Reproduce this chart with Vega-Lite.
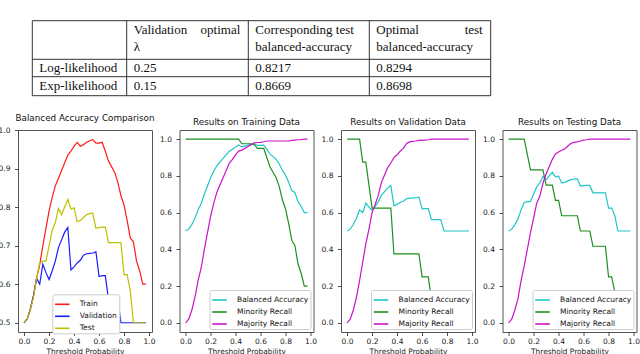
{
  "$schema": "https://vega.github.io/schema/vega-lite/v6.json",
  "autosize": {"type": "none"},
  "padding": {"left": 18, "top": 0, "right": 622, "bottom": 354},
  "background": "white",
  "bounds": "flush",
  "spacing": 30,
  "datasets": {
    "cells": [
      {"k": 1, "ln": 0, "text": "Validation", "part": "l"},
      {"k": 2, "ln": 0, "text": "optimal", "part": "r"},
      {"k": 2, "ln": 0, "text": "Corresponding test", "part": "l"},
      {"k": 3, "ln": 0, "text": "Optimal", "part": "l"},
      {"k": 4, "ln": 0, "text": "test", "part": "r"},
      {"k": 1, "ln": 1, "text": "λ", "part": "l"},
      {"k": 2, "ln": 1, "text": "balanced-accuracy", "part": "l"},
      {"k": 3, "ln": 1, "text": "balanced-accuracy", "part": "l"},
      {"k": 0, "ln": 2, "text": "Log-likelihood", "part": "l"},
      {"k": 1, "ln": 2, "text": "0.25", "part": "l"},
      {"k": 2, "ln": 2, "text": "0.8217", "part": "l"},
      {"k": 3, "ln": 2, "text": "0.8294", "part": "l"},
      {"k": 0, "ln": 3, "text": "Exp-likelihood", "part": "l"},
      {"k": 1, "ln": 3, "text": "0.15", "part": "l"},
      {"k": 2, "ln": 3, "text": "0.8669", "part": "l"},
      {"k": 3, "ln": 3, "text": "0.8698", "part": "l"}
    ],
    "cmp": [
      {"t":0,"Train":0.5,"Validation":0.5,"Test":0.5},
      {"t":0.025,"Train":0.51,"Validation":0.51,"Test":0.51},
      {"t":0.05,"Train":0.535,"Validation":0.535,"Test":0.535},
      {"t":0.075,"Train":0.57,"Validation":0.57,"Test":0.565},
      {"t":0.1,"Train":0.615,"Validation":0.615,"Test":0.615},
      {"t":0.125,"Train":0.65,"Validation":0.6,"Test":0.655},
      {"t":0.15,"Train":0.7,"Validation":0.652,"Test":0.66},
      {"t":0.175,"Train":0.745,"Validation":0.63,"Test":0.66},
      {"t":0.2,"Train":0.79,"Validation":0.612,"Test":0.7},
      {"t":0.225,"Train":0.825,"Validation":0.635,"Test":0.74},
      {"t":0.25,"Train":0.855,"Validation":0.66,"Test":0.76},
      {"t":0.275,"Train":0.875,"Validation":0.695,"Test":0.797},
      {"t":0.3,"Train":0.895,"Validation":0.715,"Test":0.78},
      {"t":0.325,"Train":0.915,"Validation":0.735,"Test":0.8},
      {"t":0.35,"Train":0.935,"Validation":0.747,"Test":0.82},
      {"t":0.375,"Train":0.945,"Validation":0.637,"Test":0.795},
      {"t":0.4,"Train":0.958,"Validation":0.645,"Test":0.798},
      {"t":0.425,"Train":0.968,"Validation":0.655,"Test":0.762},
      {"t":0.45,"Train":0.958,"Validation":0.662,"Test":0.765},
      {"t":0.475,"Train":0.962,"Validation":0.675,"Test":0.773},
      {"t":0.5,"Train":0.968,"Validation":0.679,"Test":0.78},
      {"t":0.525,"Train":0.972,"Validation":0.68,"Test":0.783},
      {"t":0.55,"Train":0.975,"Validation":0.681,"Test":0.784},
      {"t":0.575,"Train":0.966,"Validation":0.684,"Test":0.745},
      {"t":0.6,"Train":0.966,"Validation":0.62,"Test":0.747},
      {"t":0.625,"Train":0.968,"Validation":0.622,"Test":0.748},
      {"t":0.65,"Train":0.945,"Validation":0.622,"Test":0.748},
      {"t":0.675,"Train":0.92,"Validation":0.562,"Test":0.708},
      {"t":0.7,"Train":0.905,"Validation":0.562,"Test":0.708},
      {"t":0.725,"Train":0.89,"Validation":0.562,"Test":0.708},
      {"t":0.75,"Train":0.865,"Validation":0.562,"Test":0.708},
      {"t":0.775,"Train":0.83,"Validation":0.5,"Test":0.708},
      {"t":0.8,"Train":0.805,"Validation":0.5,"Test":0.625},
      {"t":0.825,"Train":0.765,"Validation":0.5,"Test":0.625},
      {"t":0.85,"Train":0.72,"Validation":0.5,"Test":0.583},
      {"t":0.875,"Train":0.71,"Validation":0.5,"Test":0.5},
      {"t":0.9,"Train":0.66,"Validation":0.5,"Test":0.5},
      {"t":0.925,"Train":0.635,"Validation":0.5,"Test":0.5},
      {"t":0.95,"Train":0.6,"Validation":0.5,"Test":0.5},
      {"t":0.975,"Train":0.6,"Validation":0.5,"Test":0.5}
    ],
    "tr": [
      {"t":0,"Balanced Accuracy":0.5,"Minority Recall":1,"Majority Recall":0},
      {"t":0.025,"Balanced Accuracy":0.51,"Minority Recall":1,"Majority Recall":0.02},
      {"t":0.05,"Balanced Accuracy":0.535,"Minority Recall":1,"Majority Recall":0.07},
      {"t":0.075,"Balanced Accuracy":0.57,"Minority Recall":1,"Majority Recall":0.14},
      {"t":0.1,"Balanced Accuracy":0.615,"Minority Recall":1,"Majority Recall":0.23},
      {"t":0.125,"Balanced Accuracy":0.65,"Minority Recall":1,"Majority Recall":0.3},
      {"t":0.15,"Balanced Accuracy":0.7,"Minority Recall":1,"Majority Recall":0.4},
      {"t":0.175,"Balanced Accuracy":0.745,"Minority Recall":1,"Majority Recall":0.49},
      {"t":0.2,"Balanced Accuracy":0.79,"Minority Recall":1,"Majority Recall":0.58},
      {"t":0.225,"Balanced Accuracy":0.825,"Minority Recall":1,"Majority Recall":0.65},
      {"t":0.25,"Balanced Accuracy":0.855,"Minority Recall":1,"Majority Recall":0.71},
      {"t":0.275,"Balanced Accuracy":0.875,"Minority Recall":1,"Majority Recall":0.75},
      {"t":0.3,"Balanced Accuracy":0.895,"Minority Recall":1,"Majority Recall":0.79},
      {"t":0.325,"Balanced Accuracy":0.915,"Minority Recall":1,"Majority Recall":0.83},
      {"t":0.35,"Balanced Accuracy":0.935,"Minority Recall":1,"Majority Recall":0.87},
      {"t":0.375,"Balanced Accuracy":0.945,"Minority Recall":1,"Majority Recall":0.89},
      {"t":0.4,"Balanced Accuracy":0.958,"Minority Recall":1,"Majority Recall":0.915},
      {"t":0.425,"Balanced Accuracy":0.968,"Minority Recall":1,"Majority Recall":0.935},
      {"t":0.45,"Balanced Accuracy":0.958,"Minority Recall":0.975,"Majority Recall":0.94},
      {"t":0.475,"Balanced Accuracy":0.962,"Minority Recall":0.975,"Majority Recall":0.95},
      {"t":0.5,"Balanced Accuracy":0.968,"Minority Recall":0.975,"Majority Recall":0.96},
      {"t":0.525,"Balanced Accuracy":0.972,"Minority Recall":0.975,"Majority Recall":0.97},
      {"t":0.55,"Balanced Accuracy":0.975,"Minority Recall":0.97,"Majority Recall":0.98},
      {"t":0.575,"Balanced Accuracy":0.966,"Minority Recall":0.95,"Majority Recall":0.982},
      {"t":0.6,"Balanced Accuracy":0.966,"Minority Recall":0.95,"Majority Recall":0.983},
      {"t":0.625,"Balanced Accuracy":0.968,"Minority Recall":0.95,"Majority Recall":0.986},
      {"t":0.65,"Balanced Accuracy":0.945,"Minority Recall":0.9,"Majority Recall":0.99},
      {"t":0.675,"Balanced Accuracy":0.92,"Minority Recall":0.85,"Majority Recall":0.99},
      {"t":0.7,"Balanced Accuracy":0.905,"Minority Recall":0.82,"Majority Recall":0.99},
      {"t":0.725,"Balanced Accuracy":0.89,"Minority Recall":0.79,"Majority Recall":0.99},
      {"t":0.75,"Balanced Accuracy":0.865,"Minority Recall":0.74,"Majority Recall":0.99},
      {"t":0.775,"Balanced Accuracy":0.83,"Minority Recall":0.67,"Majority Recall":0.99},
      {"t":0.8,"Balanced Accuracy":0.805,"Minority Recall":0.62,"Majority Recall":0.99},
      {"t":0.825,"Balanced Accuracy":0.765,"Minority Recall":0.54,"Majority Recall":0.99},
      {"t":0.85,"Balanced Accuracy":0.72,"Minority Recall":0.45,"Majority Recall":0.993},
      {"t":0.875,"Balanced Accuracy":0.71,"Minority Recall":0.42,"Majority Recall":0.995},
      {"t":0.9,"Balanced Accuracy":0.66,"Minority Recall":0.32,"Majority Recall":0.997},
      {"t":0.925,"Balanced Accuracy":0.635,"Minority Recall":0.27,"Majority Recall":0.998},
      {"t":0.95,"Balanced Accuracy":0.6,"Minority Recall":0.2,"Majority Recall":1},
      {"t":0.975,"Balanced Accuracy":0.6,"Minority Recall":0.2,"Majority Recall":1}
    ],
    "va": [
      {"t":0,"Balanced Accuracy":0.5,"Minority Recall":1,"Majority Recall":0},
      {"t":0.025,"Balanced Accuracy":0.51,"Minority Recall":1,"Majority Recall":0.02},
      {"t":0.05,"Balanced Accuracy":0.535,"Minority Recall":1,"Majority Recall":0.07},
      {"t":0.075,"Balanced Accuracy":0.57,"Minority Recall":1,"Majority Recall":0.14},
      {"t":0.1,"Balanced Accuracy":0.615,"Minority Recall":1,"Majority Recall":0.23},
      {"t":0.125,"Balanced Accuracy":0.6,"Minority Recall":0.875,"Majority Recall":0.33},
      {"t":0.15,"Balanced Accuracy":0.652,"Minority Recall":0.875,"Majority Recall":0.43},
      {"t":0.175,"Balanced Accuracy":0.63,"Minority Recall":0.75,"Majority Recall":0.51},
      {"t":0.2,"Balanced Accuracy":0.612,"Minority Recall":0.625,"Majority Recall":0.6},
      {"t":0.225,"Balanced Accuracy":0.635,"Minority Recall":0.625,"Majority Recall":0.645},
      {"t":0.25,"Balanced Accuracy":0.66,"Minority Recall":0.625,"Majority Recall":0.695},
      {"t":0.275,"Balanced Accuracy":0.695,"Minority Recall":0.625,"Majority Recall":0.765},
      {"t":0.3,"Balanced Accuracy":0.715,"Minority Recall":0.625,"Majority Recall":0.805},
      {"t":0.325,"Balanced Accuracy":0.735,"Minority Recall":0.625,"Majority Recall":0.845},
      {"t":0.35,"Balanced Accuracy":0.747,"Minority Recall":0.625,"Majority Recall":0.87},
      {"t":0.375,"Balanced Accuracy":0.637,"Minority Recall":0.375,"Majority Recall":0.9},
      {"t":0.4,"Balanced Accuracy":0.645,"Minority Recall":0.375,"Majority Recall":0.915},
      {"t":0.425,"Balanced Accuracy":0.655,"Minority Recall":0.375,"Majority Recall":0.935},
      {"t":0.45,"Balanced Accuracy":0.662,"Minority Recall":0.375,"Majority Recall":0.95},
      {"t":0.475,"Balanced Accuracy":0.675,"Minority Recall":0.375,"Majority Recall":0.975},
      {"t":0.5,"Balanced Accuracy":0.679,"Minority Recall":0.375,"Majority Recall":0.985},
      {"t":0.525,"Balanced Accuracy":0.68,"Minority Recall":0.375,"Majority Recall":0.988},
      {"t":0.55,"Balanced Accuracy":0.681,"Minority Recall":0.375,"Majority Recall":0.99},
      {"t":0.575,"Balanced Accuracy":0.684,"Minority Recall":0.375,"Majority Recall":0.993},
      {"t":0.6,"Balanced Accuracy":0.62,"Minority Recall":0.25,"Majority Recall":0.995},
      {"t":0.625,"Balanced Accuracy":0.622,"Minority Recall":0.25,"Majority Recall":0.995},
      {"t":0.65,"Balanced Accuracy":0.622,"Minority Recall":0.25,"Majority Recall":0.997},
      {"t":0.675,"Balanced Accuracy":0.562,"Minority Recall":0.125,"Majority Recall":1},
      {"t":0.7,"Balanced Accuracy":0.562,"Minority Recall":0.125,"Majority Recall":1},
      {"t":0.725,"Balanced Accuracy":0.562,"Minority Recall":0.125,"Majority Recall":1},
      {"t":0.75,"Balanced Accuracy":0.562,"Minority Recall":0.125,"Majority Recall":1},
      {"t":0.775,"Balanced Accuracy":0.5,"Minority Recall":0,"Majority Recall":1},
      {"t":0.8,"Balanced Accuracy":0.5,"Minority Recall":0,"Majority Recall":1},
      {"t":0.825,"Balanced Accuracy":0.5,"Minority Recall":0,"Majority Recall":1},
      {"t":0.85,"Balanced Accuracy":0.5,"Minority Recall":0,"Majority Recall":1},
      {"t":0.875,"Balanced Accuracy":0.5,"Minority Recall":0,"Majority Recall":1},
      {"t":0.9,"Balanced Accuracy":0.5,"Minority Recall":0,"Majority Recall":1},
      {"t":0.925,"Balanced Accuracy":0.5,"Minority Recall":0,"Majority Recall":1},
      {"t":0.95,"Balanced Accuracy":0.5,"Minority Recall":0,"Majority Recall":1},
      {"t":0.975,"Balanced Accuracy":0.5,"Minority Recall":0,"Majority Recall":1}
    ],
    "te": [
      {"t":0,"Balanced Accuracy":0.5,"Minority Recall":1,"Majority Recall":0},
      {"t":0.025,"Balanced Accuracy":0.51,"Minority Recall":1,"Majority Recall":0.02},
      {"t":0.05,"Balanced Accuracy":0.535,"Minority Recall":1,"Majority Recall":0.07},
      {"t":0.075,"Balanced Accuracy":0.565,"Minority Recall":1,"Majority Recall":0.13},
      {"t":0.1,"Balanced Accuracy":0.615,"Minority Recall":1,"Majority Recall":0.23},
      {"t":0.125,"Balanced Accuracy":0.655,"Minority Recall":1,"Majority Recall":0.31},
      {"t":0.15,"Balanced Accuracy":0.66,"Minority Recall":0.917,"Majority Recall":0.4},
      {"t":0.175,"Balanced Accuracy":0.66,"Minority Recall":0.833,"Majority Recall":0.49},
      {"t":0.2,"Balanced Accuracy":0.7,"Minority Recall":0.833,"Majority Recall":0.57},
      {"t":0.225,"Balanced Accuracy":0.74,"Minority Recall":0.833,"Majority Recall":0.65},
      {"t":0.25,"Balanced Accuracy":0.76,"Minority Recall":0.833,"Majority Recall":0.69},
      {"t":0.275,"Balanced Accuracy":0.797,"Minority Recall":0.833,"Majority Recall":0.76},
      {"t":0.3,"Balanced Accuracy":0.78,"Minority Recall":0.75,"Majority Recall":0.81},
      {"t":0.325,"Balanced Accuracy":0.8,"Minority Recall":0.75,"Majority Recall":0.85},
      {"t":0.35,"Balanced Accuracy":0.82,"Minority Recall":0.75,"Majority Recall":0.89},
      {"t":0.375,"Balanced Accuracy":0.795,"Minority Recall":0.667,"Majority Recall":0.92},
      {"t":0.4,"Balanced Accuracy":0.798,"Minority Recall":0.667,"Majority Recall":0.93},
      {"t":0.425,"Balanced Accuracy":0.762,"Minority Recall":0.583,"Majority Recall":0.94},
      {"t":0.45,"Balanced Accuracy":0.765,"Minority Recall":0.583,"Majority Recall":0.947},
      {"t":0.475,"Balanced Accuracy":0.773,"Minority Recall":0.583,"Majority Recall":0.963},
      {"t":0.5,"Balanced Accuracy":0.78,"Minority Recall":0.583,"Majority Recall":0.977},
      {"t":0.525,"Balanced Accuracy":0.783,"Minority Recall":0.583,"Majority Recall":0.983},
      {"t":0.55,"Balanced Accuracy":0.784,"Minority Recall":0.583,"Majority Recall":0.985},
      {"t":0.575,"Balanced Accuracy":0.745,"Minority Recall":0.5,"Majority Recall":0.99},
      {"t":0.6,"Balanced Accuracy":0.747,"Minority Recall":0.5,"Majority Recall":0.995},
      {"t":0.625,"Balanced Accuracy":0.748,"Minority Recall":0.5,"Majority Recall":0.997},
      {"t":0.65,"Balanced Accuracy":0.748,"Minority Recall":0.5,"Majority Recall":1},
      {"t":0.675,"Balanced Accuracy":0.708,"Minority Recall":0.417,"Majority Recall":1},
      {"t":0.7,"Balanced Accuracy":0.708,"Minority Recall":0.417,"Majority Recall":1},
      {"t":0.725,"Balanced Accuracy":0.708,"Minority Recall":0.417,"Majority Recall":1},
      {"t":0.75,"Balanced Accuracy":0.708,"Minority Recall":0.417,"Majority Recall":1},
      {"t":0.775,"Balanced Accuracy":0.708,"Minority Recall":0.417,"Majority Recall":1},
      {"t":0.8,"Balanced Accuracy":0.625,"Minority Recall":0.25,"Majority Recall":1},
      {"t":0.825,"Balanced Accuracy":0.625,"Minority Recall":0.25,"Majority Recall":1},
      {"t":0.85,"Balanced Accuracy":0.583,"Minority Recall":0.167,"Majority Recall":1},
      {"t":0.875,"Balanced Accuracy":0.5,"Minority Recall":0,"Majority Recall":1},
      {"t":0.9,"Balanced Accuracy":0.5,"Minority Recall":0,"Majority Recall":1},
      {"t":0.925,"Balanced Accuracy":0.5,"Minority Recall":0,"Majority Recall":1},
      {"t":0.95,"Balanced Accuracy":0.5,"Minority Recall":0,"Majority Recall":1},
      {"t":0.975,"Balanced Accuracy":0.5,"Minority Recall":0,"Majority Recall":1}
    ]
  },
  "vconcat": [
    {
      "width": 622,
      "height": 100,
      "view": {"stroke": null},
      "resolve": {"scale": {"y": "independent", "x": "shared"}},
      "layer": [
        {
          "data": {"values": [{"b": 0}, {"b": 1}, {"b": 2}, {"b": 3}]},
          "mark": {"type": "rule", "stroke": "#333", "strokeWidth": 1},
          "encoding": {
            "y": {"field": "b", "type": "quantitative", "axis": null, "scale": {"domain": [0, 1, 2, 3], "range": [20.7, 59.3, 76.7, 95.7]}},
            "x": {"datum": 0, "type": "quantitative", "axis": null, "scale": {"domain": [0, 1, 2, 3, 4], "range": [14.3, 108.7, 230.3, 351.3, 472.7]}},
            "x2": {"datum": 4}
          }
        },
        {
          "data": {"values": [{"k": 0}, {"k": 1}, {"k": 2}, {"k": 3}, {"k": 4}]},
          "mark": {"type": "rule", "stroke": "#333", "strokeWidth": 1},
          "encoding": {
            "x": {"field": "k", "type": "quantitative", "axis": null, "scale": {"domain": [0, 1, 2, 3, 4], "range": [14.3, 108.7, 230.3, 351.3, 472.7]}},
            "y": {"datum": 0, "type": "quantitative", "axis": null, "scale": {"domain": [0, 1, 2, 3], "range": [20.7, 59.3, 76.7, 95.7]}},
            "y2": {"datum": 3}
          }
        },
        {
          "data": {"name": "cells"},
          "transform": [{"filter": "datum.part === 'l'"}],
          "mark": {"type": "text", "align": "left", "baseline": "alphabetic", "dx": 7, "font": "Liberation Serif", "fontSize": 13, "color": "#111"},
          "encoding": {
            "x": {"field": "k", "type": "quantitative", "axis": null, "scale": {"domain": [0, 1, 2, 3, 4], "range": [14.3, 108.7, 230.3, 351.3, 472.7]}},
            "y": {"field": "ln", "type": "quantitative", "axis": null, "scale": {"domain": [0, 1, 2, 3], "range": [34.3, 50.7, 71.7, 90]}},
            "text": {"field": "text"}
          }
        },
        {
          "data": {"name": "cells"},
          "transform": [{"filter": "datum.part === 'r'"}],
          "mark": {"type": "text", "align": "right", "baseline": "alphabetic", "dx": -8, "font": "Liberation Serif", "fontSize": 13, "color": "#111"},
          "encoding": {
            "x": {"field": "k", "type": "quantitative", "axis": null, "scale": {"domain": [0, 1, 2, 3, 4], "range": [14.3, 108.7, 230.3, 351.3, 472.7]}},
            "y": {"field": "ln", "type": "quantitative", "axis": null, "scale": {"domain": [0, 1, 2, 3], "range": [34.3, 50.7, 71.7, 90]}},
            "text": {"field": "text"}
          }
        }
      ]
    },
    {
      "bounds": "flush",
      "spacing": 27.5,
      "resolve": {"scale": {"x": "independent", "y": "independent", "color": "independent"}, "legend": {"color": "independent"}},
      "hconcat": [
        {
          "width": 134,
          "height": 202,
          "title": "Balanced Accuracy Comparison",
          "data": {"name": "cmp"},
          "transform": [{"fold": ["Train", "Validation", "Test"], "as": ["series", "value"]}],
          "mark": {"type": "line", "strokeWidth": 1.2},
          "encoding": {
            "x": {"field": "t", "type": "quantitative", "title": "Threshold Probability", "scale": {"domain": [-0.04875, 1.02375], "nice": false, "zero": false}, "axis": {"values": [0, 0.2, 0.4, 0.6, 0.8, 1.0], "format": ".1f"}},
            "y": {"field": "value", "type": "quantitative", "title": null, "scale": {"domain": [0.476, 1.0], "nice": false, "zero": false}, "axis": {"values": [0.5, 0.6, 0.7, 0.8, 0.9, 1.0], "format": ".1f"}},
            "color": {"field": "series", "type": "nominal", "title": null, "scale": {"domain": ["Train", "Validation", "Test"], "range": ["#ff1a1a", "#1a1aff", "#bfbf00"]}, "legend": {"orient": "none", "legendX": 34.3, "legendY": 164.3}}
          }
        },
        {
          "width": 134,
          "height": 202,
          "title": "Results on Training Data",
          "data": {"name": "tr"},
          "transform": [{"fold": ["Balanced Accuracy", "Minority Recall", "Majority Recall"], "as": ["series", "value"]}],
          "mark": {"type": "line", "strokeWidth": 1.2},
          "encoding": {
            "x": {"field": "t", "type": "quantitative", "title": "Threshold Probability", "scale": {"domain": [-0.04875, 1.02375], "nice": false, "zero": false}, "axis": {"values": [0, 0.2, 0.4, 0.6, 0.8, 1.0], "format": ".1f"}},
            "y": {"field": "value", "type": "quantitative", "title": null, "scale": {"domain": [-0.05, 1.05], "nice": false, "zero": false}, "axis": {"values": [0, 0.2, 0.4, 0.6, 0.8, 1.0], "format": ".1f"}},
            "color": {"field": "series", "type": "nominal", "title": null, "scale": {"domain": ["Balanced Accuracy", "Minority Recall", "Majority Recall"], "range": ["#1fc6c6", "#1f8f1f", "#c814c8"]}}
          }
        },
        {
          "width": 134,
          "height": 202,
          "title": "Results on Validation Data",
          "data": {"name": "va"},
          "transform": [{"fold": ["Balanced Accuracy", "Minority Recall", "Majority Recall"], "as": ["series", "value"]}],
          "mark": {"type": "line", "strokeWidth": 1.2},
          "encoding": {
            "x": {"field": "t", "type": "quantitative", "title": "Threshold Probability", "scale": {"domain": [-0.04875, 1.02375], "nice": false, "zero": false}, "axis": {"values": [0, 0.2, 0.4, 0.6, 0.8, 1.0], "format": ".1f"}},
            "y": {"field": "value", "type": "quantitative", "title": null, "scale": {"domain": [-0.05, 1.05], "nice": false, "zero": false}, "axis": {"values": [0, 0.2, 0.4, 0.6, 0.8, 1.0], "format": ".1f"}},
            "color": {"field": "series", "type": "nominal", "title": null, "scale": {"domain": ["Balanced Accuracy", "Minority Recall", "Majority Recall"], "range": ["#1fc6c6", "#1f8f1f", "#c814c8"]}}
          }
        },
        {
          "width": 134,
          "height": 202,
          "title": "Results on Testing Data",
          "data": {"name": "te"},
          "transform": [{"fold": ["Balanced Accuracy", "Minority Recall", "Majority Recall"], "as": ["series", "value"]}],
          "mark": {"type": "line", "strokeWidth": 1.2},
          "encoding": {
            "x": {"field": "t", "type": "quantitative", "title": "Threshold Probability", "scale": {"domain": [-0.04875, 1.02375], "nice": false, "zero": false}, "axis": {"values": [0, 0.2, 0.4, 0.6, 0.8, 1.0], "format": ".1f"}},
            "y": {"field": "value", "type": "quantitative", "title": null, "scale": {"domain": [-0.05, 1.05], "nice": false, "zero": false}, "axis": {"values": [0, 0.2, 0.4, 0.6, 0.8, 1.0], "format": ".1f"}},
            "color": {"field": "series", "type": "nominal", "title": null, "scale": {"domain": ["Balanced Accuracy", "Minority Recall", "Majority Recall"], "range": ["#1fc6c6", "#1f8f1f", "#c814c8"]}}
          }
        }
      ]
    }
  ],
  "config": {
    "font": "DejaVu Sans",
    "view": {"stroke": "#555", "strokeWidth": 1},
    "axis": {"domain": false, "grid": false, "ticks": true, "tickSize": 3.5, "tickColor": "#222", "tickWidth": 0.8, "labelFontSize": 7.5, "labelColor": "#222", "labelFont": "DejaVu Sans", "labelFlush": false, "labelOverlap": false, "titleFontSize": 7.4, "titleFontWeight": "normal", "titleColor": "#222", "titleFont": "DejaVu Sans", "labelPadding": 1.5, "titlePadding": 3},
    "axisY": {"labelPadding": 4.5},
    "title": {"fontSize": 8.8, "fontWeight": "normal", "font": "DejaVu Sans", "offset": 3, "color": "#111"},
    "legend": {"orient": "bottom-right", "offset": 3, "symbolType": "stroke", "symbolSize": 210, "symbolStrokeWidth": 1.6, "labelFontSize": 7.5, "labelFont": "DejaVu Sans", "labelColor": "#111", "fillColor": "white", "strokeColor": "#ccc", "padding": 1.5, "cornerRadius": 2, "rowPadding": -2.2, "labelOffset": 9}
  }
}
